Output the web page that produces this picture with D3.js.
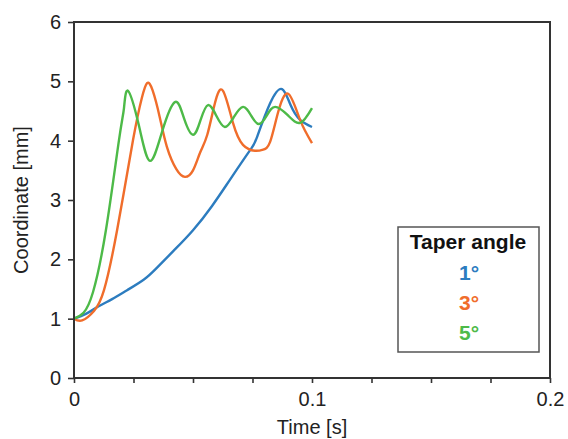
<!DOCTYPE html>
<html>
<head>
<meta charset="utf-8">
<script src="https://cdn.jsdelivr.net/npm/d3@7"></script>
<style>
  body { margin: 0; background: #fff; }
  text { font-family: "Liberation Sans", Arial, sans-serif; fill: #222; }
</style>
</head>
<body>
<script>
// Data (time in s, coordinate in mm)
const blueT  = [0, 0.005, 0.01, 0.016, 0.0223, 0.0294, 0.0349, 0.042, 0.050, 0.058, 0.0655, 0.074, 0.0769, 0.0824, 0.0874, 0.091, 0.095, 0.1];
const blueV  = [1.0, 1.08, 1.2, 1.33, 1.48, 1.66, 1.86, 2.15, 2.49, 2.9, 3.34, 3.84, 4.06, 4.63, 4.87, 4.6, 4.35, 4.23];

const orangeT = [0, 0.0034, 0.0084, 0.0126, 0.0181, 0.0248, 0.0285, 0.0307, 0.033, 0.036, 0.039, 0.043, 0.0466, 0.050, 0.053, 0.056, 0.0592, 0.0626, 0.0668, 0.071, 0.076, 0.0795, 0.0824, 0.0857, 0.090, 0.095, 0.1];
const orangeV = [1.0, 0.97, 1.13, 1.48, 2.49, 4.01, 4.72, 4.97, 4.85, 4.4, 3.9, 3.52, 3.39, 3.5, 3.8, 4.1, 4.63, 4.84, 4.3, 3.93, 3.83, 3.85, 3.98, 4.47, 4.79, 4.35, 3.96];

const greenT = [0, 0.004, 0.008, 0.0134, 0.0189, 0.021, 0.0227, 0.0273, 0.0319, 0.037, 0.0424, 0.0462, 0.050, 0.0532, 0.0563, 0.0598, 0.0634, 0.0672, 0.071, 0.0743, 0.0777, 0.0811, 0.0845, 0.0898, 0.095, 0.1];
const greenV = [1.0, 1.1, 1.45, 2.49, 4.01, 4.55, 4.84, 4.25, 3.66, 4.15, 4.65, 4.38, 4.10, 4.35, 4.60, 4.42, 4.23, 4.40, 4.57, 4.43, 4.28, 4.43, 4.57, 4.43, 4.30, 4.55];

const legendTitle = "Taper angle";
const seriesNames = ["1°", "3°", "5°"];
const seriesColors = ["#2c7cbf", "#f06d2b", "#4dba48"];
const xTickValues = [0, 0.1, 0.2];
const yTickValues = [0, 1, 2, 3, 4, 5, 6];

const series = [
  { name: seriesNames[0], t: blueT, v: blueV, color: seriesColors[0] },
  { name: seriesNames[1], t: orangeT, v: orangeV, color: seriesColors[1] },
  { name: seriesNames[2], t: greenT, v: greenV, color: seriesColors[2] }
];

const svgWidth = 568, svgHeight = 439;
const margin = { top: 22, right: 18, bottom: 61, left: 74 };
const width = svgWidth - margin.left - margin.right;
const height = svgHeight - margin.top - margin.bottom;

const svg = d3.select("body").append("svg")
  .attr("width", svgWidth)
  .attr("height", svgHeight);

const chartGroup = svg.append("g")
  .attr("transform", `translate(${margin.left}, ${margin.top})`);

const x = d3.scaleLinear().domain([0, 0.2]).range([0, width]);
const y = d3.scaleLinear().domain([0, 6]).range([height, 0]);

// Curves
const line = d3.line()
  .x(d => x(d[0]))
  .y(d => y(d[1]))
  .curve(d3.curveNatural);

series.forEach(s => {
  chartGroup.append("path")
    .datum(s.t.map((t, i) => [t, s.v[i]]))
    .attr("fill", "none")
    .attr("stroke", s.color)
    .attr("stroke-width", 2.4)
    .attr("stroke-linejoin", "round")
    .attr("d", line);
});

// Frame
chartGroup.append("rect")
  .attr("x", 0).attr("y", 0)
  .attr("width", width).attr("height", height)
  .attr("fill", "none")
  .attr("stroke", "#333")
  .attr("stroke-width", 2);

// Axes
const xAxis = d3.axisBottom(x)
  .tickValues(d3.range(0, 0.2001, 0.025))
  .tickSize(5)
  .tickFormat(d => xTickValues.some(v => Math.abs(v - d) < 1e-9) ? d3.format("")(+d.toFixed(1)) : "");

const gx = chartGroup.append("g")
  .attr("transform", `translate(0, ${height})`)
  .call(xAxis);
gx.select(".domain").remove();
gx.selectAll(".tick line").attr("stroke", "#333").attr("stroke-width", 1.6);
gx.selectAll(".tick text")
  .attr("font-size", 20)
  .attr("dy", "0.71em")
  .attr("y", 14)
  .style("fill", "#222");

const yAxis = d3.axisLeft(y)
  .tickValues(yTickValues)
  .tickSize(6)
  .tickFormat(d3.format("d"));

const gy = chartGroup.append("g").call(yAxis);
gy.select(".domain").remove();
gy.selectAll(".tick line").attr("stroke", "#333").attr("stroke-width", 1.6);
gy.selectAll(".tick text")
  .attr("font-size", 20)
  .attr("x", -13)
  .style("fill", "#222");

// Axis titles
svg.append("text")
  .attr("x", margin.left + width / 2)
  .attr("y", 434)
  .attr("text-anchor", "middle")
  .attr("font-size", 20)
  .text("Time [s]");

svg.append("text")
  .attr("transform", `translate(28, ${margin.top + height / 2}) rotate(-90)`)
  .attr("text-anchor", "middle")
  .attr("font-size", 20)
  .text("Coordinate [mm]");

// Legend
const legend = svg.append("g").attr("transform", "translate(398, 227)");
legend.append("rect")
  .attr("width", 141).attr("height", 125)
  .attr("fill", "#fff")
  .attr("stroke", "#555")
  .attr("stroke-width", 1.5);
legend.append("text")
  .attr("x", 70).attr("y", 22)
  .attr("text-anchor", "middle")
  .attr("font-size", 21)
  .attr("font-weight", "bold")
  .style("fill", "#111")
  .text(legendTitle);
series.forEach((s, i) => {
  legend.append("text")
    .attr("x", 71).attr("y", 53 + i * 30)
    .attr("text-anchor", "middle")
    .attr("font-size", 21)
    .attr("font-weight", "bold")
    .style("fill", s.color)
    .text(s.name);
});
</script>
</body>
</html>
